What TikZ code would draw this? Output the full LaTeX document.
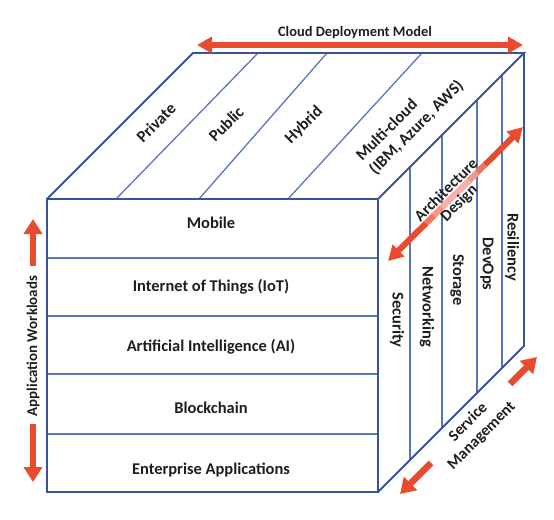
\documentclass[tikz,border=0pt]{standalone}
\usepackage{fontspec}
\setmainfont{Carlito}
\usetikzlibrary{arrows.meta,calc}
\definecolor{edgeblue}{RGB}{58,82,158}
\definecolor{lineblue}{RGB}{88,118,192}
\definecolor{arrred}{RGB}{234,74,46}
\definecolor{txt}{RGB}{30,30,30}
\begin{document}
\begin{tikzpicture}[x=1bp,y=-1bp,
  edge/.style={draw=edgeblue, line width=1.8bp, line join=miter},
  divline/.style={draw=lineblue, line width=1.3bp},
  lbl/.style={font=\fontsize{16.5}{19}\selectfont\bfseries, inner sep=0pt, text=txt},
  slbl/.style={font=\fontsize{14.5}{17}\selectfont\bfseries, inner sep=0pt, text=txt},
  redarrow/.style={draw=arrred, line width=6.5bp, -{Triangle[width=18bp,length=15bp]}},
  dblarrow/.style={draw=arrred, line width=6bp, {Triangle[width=16bp,length=15bp]}-{Triangle[width=16bp,length=15bp]}},
]
\useasboundingbox (0,0) rectangle (554,520);
% cube corners
\coordinate (FTL) at (47,199);
\coordinate (FTR) at (378,199);
\coordinate (FBL) at (47,492);
\coordinate (FBR) at (378,492);
\coordinate (BTL) at (193,53);
\coordinate (BTR) at (524,53);
\coordinate (BBR) at (524,346);
% front dividers
\foreach \y [count=\i] in {258,316,374,434}{
  \coordinate (hl\i) at (47,\y);
  \coordinate (hr\i) at (378,\y);
  \draw[divline] (hl\i) -- (hr\i);
}
% top dividers
\coordinate (t1a) at (116,199); \coordinate (t1b) at (258,53);
\coordinate (t2a) at (199,199); \coordinate (t2b) at (327,53);
\coordinate (t3a) at (288,199); \coordinate (t3b) at (422,53);
\draw[divline] (t1a) -- (t1b);
\draw[divline] (t2a) -- (t2b);
\draw[divline] (t3a) -- (t3b);
% right dividers
\foreach \x [count=\i] in {410,442,477,502}{
  \coordinate (rt\i) at (\x,{199-(\x-378)});
  \coordinate (rb\i) at (\x,{492-(\x-378)});
  \draw[divline] (rt\i) -- (rb\i);
}
% outer edges
\draw[edge] (FTL) rectangle (FBR);
\draw[edge] (FTL) -- (BTL) -- (BTR) -- (FTR);
\draw[edge] (BTR) -- (BBR) -- (FBR);

% front labels
\node[lbl] (mob) at (211,223) {Mobile};
\node[lbl] (iot) at (211,287) {Internet of Things (IoT)};
\node[lbl] (ai)  at (211,347) {Artificial Intelligence (AI)};
\node[lbl] (bc)  at (211,408) {Blockchain};
\node[lbl] (ent) at (211,470) {Enterprise Applications};

% top labels
\node[lbl, rotate=45] (priv) at (156,123) {Private};
\node[lbl, rotate=45] (pub)  at (226,124) {Public};
\node[lbl, rotate=45] (hyb)  at (304,125) {Hybrid};
\node[lbl, rotate=45, align=left] (multi) at (410,121) {Multi-cloud\\(IBM, Azure, AWS)};

% right labels
\node[lbl, rotate=-90] (res) at (512,247) {Resiliency};
\node[lbl, rotate=-90] (dev) at (487,264) {DevOps};
\node[lbl, rotate=-90] (sto) at (457,280) {Storage};
\node[lbl, rotate=-90] (net) at (427,307) {Networking};
\node[lbl, rotate=-90] (sec) at (397,320) {Security};

% cloud deployment model
\node[slbl] (cdm) at (355,33) {Cloud Deployment Model};
\coordinate (cdmL) at (197,45);
\coordinate (cdmR) at (523,45);
\draw[dblarrow] (cdmL) -- (cdmR);

% application workloads
\node[slbl, font=\fontsize{15}{18}\selectfont\bfseries, rotate=90] (aw) at (33,346) {Application Workloads};
\coordinate (awU0) at (33,266); \coordinate (awU1) at (33,219);
\coordinate (awD0) at (33,424); \coordinate (awD1) at (33,482);
\draw[redarrow] (awU0) -- (awU1);
\draw[redarrow] (awD0) -- (awD1);

% architecture design
\coordinate (adA) at (388,261);
\coordinate (adB) at (523,127);
\draw[dblarrow] (adA) -- (adB);
\draw[white, opacity=0.25, line width=6bp] ($(adA)!0.28!(adB)$) -- ($(adA)!0.72!(adB)$);
\draw[white, opacity=0.25, line width=6bp] ($(adA)!0.34!(adB)$) -- ($(adA)!0.66!(adB)$);
\draw[white, opacity=0.25, line width=6bp] ($(adA)!0.40!(adB)$) -- ($(adA)!0.60!(adB)$);
\node[lbl, font=\fontsize{16}{18}\selectfont\bfseries, rotate=45, align=center] (ad) at (453,197) {Architecture\\Design};

% service management
\node[lbl, font=\fontsize{16}{19}\selectfont\bfseries, rotate=45, align=center] (sm) at (475,429) {Service\\Management};
\coordinate (smU0) at (510,384); \coordinate (smU1) at (537,357);
\coordinate (smD0) at (431,463); \coordinate (smD1) at (400,494);
\draw[redarrow] (smU0) -- (smU1);
\draw[redarrow] (smD0) -- (smD1);
\end{tikzpicture}
\end{document}
